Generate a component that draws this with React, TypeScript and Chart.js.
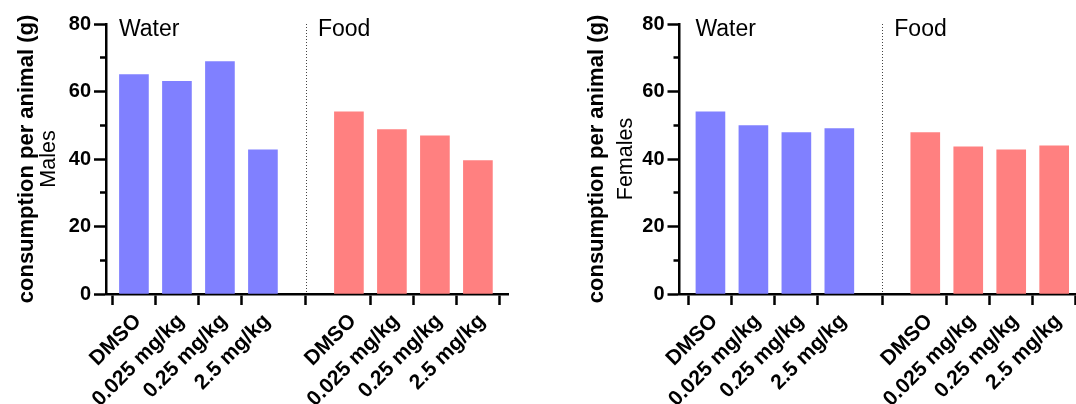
import React, { useEffect, useRef } from "react";
import { Chart, registerables } from "chart.js";

Chart.register(...registerables);

// ---- data ----
const categories = ["DMSO", "0.025 mg/kg", "0.25 mg/kg", "2.5 mg/kg"];
const groups = ["Water", "Food"];
const maleWater = [65, 63, 68.9, 42.7];
const maleFood = [54, 48.7, 46.9, 39.5];
const femaleWater = [54, 49.9, 47.8, 49];
const femaleFood = [47.8, 43.6, 42.7, 43.9];
const yMax = 80;
const yStep = 10;
const yLabelStep = 20;

const FONT = "'Liberation Sans', Arial, Helvetica, sans-serif";
const BLUE = "#8080FF";
const RED = "#FF8080";

// index positions: water 0..3, gap at 4, food 5..8
const waterX = categories.map((_, i) => i);
const gapX = categories.length;
const foodX = categories.map((_, i) => i + categories.length + 1);
const tickVals = [...waterX, ...foodX];
const labelMap = new Map<number, string>();
waterX.forEach((v, i) => labelMap.set(v, categories[i]));
foodX.forEach((v, i) => labelMap.set(v, categories[i]));

type PanelProps = {
  subtitle: string;
  water: number[];
  food: number[];
  left: number;
  width: number;
  axisWidth: number;
  padRight: number;
  xMin: number;
  xMax: number;
  titleOff: number;
  subOff: number;
};

function Panel(p: PanelProps) {
  const ref = useRef<HTMLCanvasElement | null>(null);
  useEffect(() => {
    const canvas = ref.current;
    if (!canvas) return;
    const annot = {
      id: "annot",
      afterDraw(chart: any) {
        const { ctx, chartArea } = chart;
        const xs = chart.scales.x;
        const ca = chartArea;
        ctx.save();
        // dotted separator
        const gx = Math.round(xs.getPixelForValue(gapX)) + 0.5;
        ctx.strokeStyle = "#444";
        ctx.lineWidth = 1;
        ctx.setLineDash([1, 2]);
        ctx.beginPath();
        ctx.moveTo(gx, ca.top);
        ctx.lineTo(gx, ca.bottom);
        ctx.stroke();
        ctx.setLineDash([]);
        // group labels
        ctx.fillStyle = "#000";
        ctx.font = `23px ${FONT}`;
        ctx.textAlign = "left";
        ctx.textBaseline = "alphabetic";
        ctx.fillText(groups[0], xs.getPixelForValue(waterX[0]) - 15, ca.top + 11.5);
        ctx.fillText(groups[1], xs.getPixelForValue(gapX) + 12, ca.top + 11.5);
        // y titles
        const cy = (ca.top + ca.bottom) / 2;
        ctx.save();
        ctx.translate(ca.left - p.titleOff, cy);
        ctx.rotate(-Math.PI / 2);
        ctx.textAlign = "center";
        ctx.font = `bold 22px ${FONT}`;
        ctx.fillText("consumption per animal (g)", 0, 0);
        ctx.restore();
        ctx.save();
        ctx.translate(ca.left - p.subOff, cy);
        ctx.rotate(-Math.PI / 2);
        ctx.textAlign = "center";
        ctx.font = `21.5px ${FONT}`;
        ctx.fillText(p.subtitle, 0, 0);
        ctx.restore();
        ctx.restore();
      },
    };
    const chart = new Chart(canvas, {
      type: "bar",
      data: {
        datasets: [
          {
            label: groups[0],
            data: waterX.map((x, i) => ({ x, y: p.water[i] })),
            backgroundColor: BLUE,
            grouped: false,
            barThickness: 29,
          } as any,
          {
            label: groups[1],
            data: foodX.map((x, i) => ({ x, y: p.food[i] })),
            backgroundColor: RED,
            grouped: false,
            barThickness: 29,
          } as any,
        ],
      },
      options: {
        animation: false,
        responsive: false,
        maintainAspectRatio: false,
        layout: { padding: { left: 0, top: 24, right: p.padRight, bottom: 0 } },
        plugins: { legend: { display: false }, tooltip: { enabled: false } },
        scales: {
          x: {
            type: "linear",
            min: p.xMin,
            max: p.xMax,
            offset: false,
            afterBuildTicks: (s: any) => {
              s.ticks = tickVals.map((v) => ({ value: v }));
            },
            afterFit: (s: any) => {
              s.height = 110;
            },
            grid: {
              display: true,
              drawOnChartArea: false,
              drawTicks: true,
              tickLength: 11,
              tickWidth: 2.5,
              tickColor: "#000",
            },
            border: { display: true, color: "#000", width: 2.5 },
            ticks: {
              autoSkip: false,
              maxRotation: 45,
              minRotation: 45,
              padding: 4,
              labelOffset: 4,
              color: "#000",
              font: { family: FONT, size: 21, weight: "bold" },
              callback: (v: any) => labelMap.get(Number(v)) ?? "",
            },
          } as any,
          y: {
            min: 0,
            max: yMax,
            afterFit: (s: any) => {
              s.width = p.axisWidth;
            },
            grid: {
              display: true,
              drawOnChartArea: false,
              drawTicks: true,
              tickLength: 12,
              tickWidth: 2.5,
              tickColor: "#000",
              tickBorderDash: (ctx: any) =>
                ctx.tick && ctx.tick.value % yLabelStep !== 0 ? [0, 6, 30, 0] : [],
            },
            border: { display: true, color: "#000", width: 2.5 },
            ticks: {
              stepSize: yStep,
              padding: 3,
              color: "#000",
              font: { family: FONT, size: 20, weight: "bold" },
              callback: (v: any) => (Number(v) % yLabelStep === 0 ? String(v) : ""),
            },
          } as any,
        },
      },
      plugins: [annot],
    });
    return () => chart.destroy();
  }, []);
  return (
    <canvas
      ref={ref}
      width={p.width}
      height={404}
      style={{ position: "absolute", left: p.left, top: 0, width: p.width, height: 404 }}
    />
  );
}

export default function App() {
  return (
    <div
      style={{
        position: "absolute",
        left: 0,
        top: 0,
        width: 1076,
        height: 404,
        background: "#fff",
        overflow: "hidden",
      }}
    >
      <Panel
        subtitle="Males"
        water={maleWater}
        food={maleFood}
        left={0}
        width={540}
        axisWidth={106}
        padRight={32}
        xMin={-0.65}
        xMax={8.7}
        titleOff={73.5}
        subOff={51}
      />
      <Panel
        subtitle="Females"
        water={femaleWater}
        food={femaleFood}
        left={540}
        width={536}
        axisWidth={139.5}
        padRight={0}
        xMin={-0.72}
        xMax={8.5}
        titleOff={76.5}
        subOff={47.8}
      />
    </div>
  );
}
